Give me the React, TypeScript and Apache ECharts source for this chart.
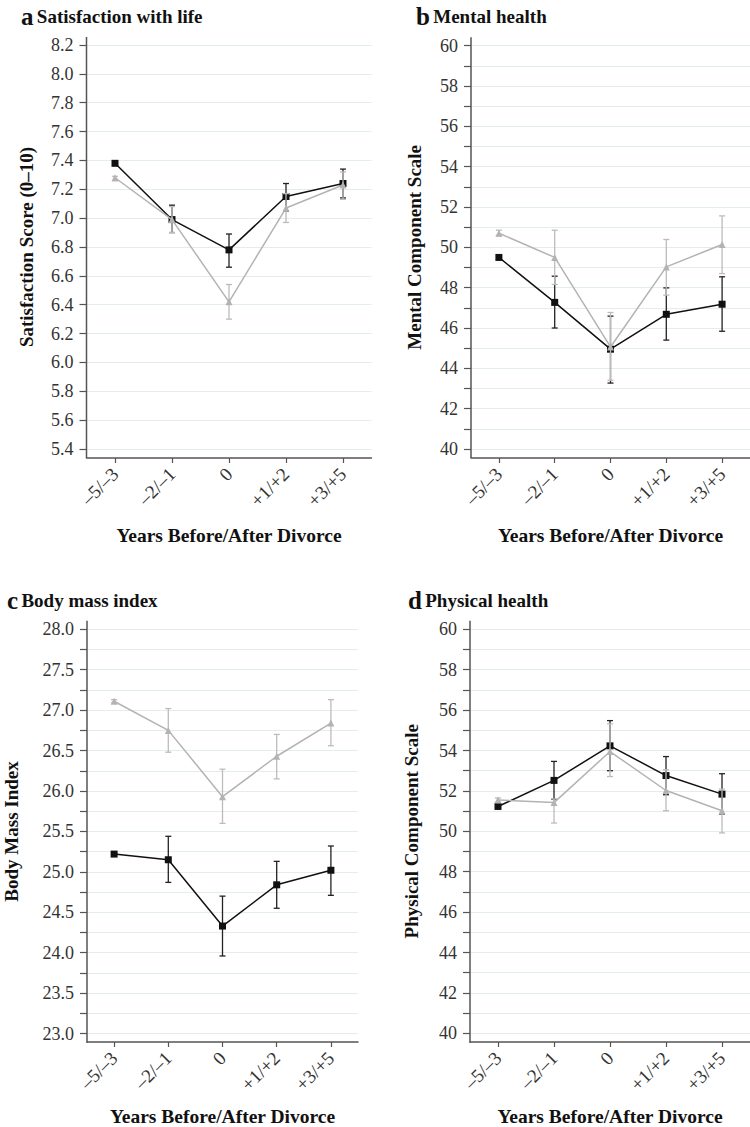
import React, { useEffect, useRef } from "react";
import * as echarts from "echarts";

// ---------- data ----------
const categories = ["–5/–3", "–2/–1", "0", "+1/+2", "+3/+5"];

// a: Satisfaction with life
const lifeBlack = [7.38, 6.99, 6.78, 7.15, 7.24];
const lifeBlackLow = [7.37, 6.90, 6.66, 7.05, 7.14];
const lifeBlackHigh = [7.39, 7.09, 6.89, 7.24, 7.34];
const lifeGray = [7.28, 6.99, 6.42, 7.07, 7.23];
const lifeGrayLow = [7.26, 6.90, 6.30, 6.97, 7.13];
const lifeGrayHigh = [7.29, 7.08, 6.54, 7.17, 7.32];

// b: Mental health
const mentalBlack = [49.5, 47.27, 44.95, 46.68, 47.18];
const mentalBlackLow = [49.4, 46.0, 43.27, 45.4, 45.84];
const mentalBlackHigh = [49.6, 48.57, 46.59, 47.99, 48.54];
const mentalGray = [50.7, 49.5, 45.06, 49.03, 50.14];
const mentalGrayLow = [50.57, 48.16, 43.41, 47.63, 48.7];
const mentalGrayHigh = [50.85, 50.85, 46.77, 50.39, 51.56];

// c: Body mass index
const bmiBlack = [25.22, 25.15, 24.33, 24.84, 25.02];
const bmiBlackLow = [25.2, 24.87, 23.96, 24.55, 24.71];
const bmiBlackHigh = [25.24, 25.44, 24.7, 25.13, 25.32];
const bmiGray = [27.11, 26.75, 25.93, 26.43, 26.84];
const bmiGrayLow = [27.09, 26.48, 25.6, 26.15, 26.56];
const bmiGrayHigh = [27.13, 27.02, 26.27, 26.7, 27.13];

// d: Physical health
const physBlack = [51.23, 52.52, 54.23, 52.76, 51.84];
const physBlackLow = [51.15, 51.58, 53.0, 51.81, 50.86];
const physBlackHigh = [51.31, 53.46, 55.48, 53.7, 52.85];
const physGray = [51.55, 51.42, 53.95, 52.02, 51.02];
const physGrayLow = [51.45, 50.41, 52.71, 51.02, 49.92];
const physGrayHigh = [51.65, 51.6, 55.32, 53.05, 52.09];

// ---------- styles ----------
const FONT = "'Liberation Serif', 'Times New Roman', serif";
const AXIS_COLOR = "#555";
const GRID_COLOR = "#e3ecee";
const LABEL_COLOR = "#333";
const BLACK = "#111";
const GRAY = "#b3b3b3";
const GRAY_ERR = "#bcbcbc";

type Panel = {
  letter: string;
  title: string;
  yName: string;
  yMin: number;
  yMax: number;
  interval: number;
  labelEvery: number;
  decimals: number;
  black: number[];
  blackLow: number[];
  blackHigh: number[];
  gray: number[];
  grayLow: number[];
  grayHigh: number[];
  left: number;
  top: number;
  width: number;
  height: number;
  axisTop: number;
  xOffset: number;
  yNameGap: number;
  xNameGap: number;
  titleX: number;
  titleY: number;
};

const panels: Panel[] = [
  {
    letter: "a", title: "Satisfaction with life", yName: "Satisfaction Score (0–10)",
    yMin: 5.4, yMax: 8.2, interval: 0.2, labelEvery: 1, decimals: 1,
    black: lifeBlack, blackLow: lifeBlackLow, blackHigh: lifeBlackHigh,
    gray: lifeGray, grayLow: lifeGrayLow, grayHigh: lifeGrayHigh,
    left: 86.5, top: 45, width: 285, height: 404, axisTop: 37, xOffset: 9,
    yNameGap: 51, xNameGap: 67, titleX: 21, titleY: 4,
  },
  {
    letter: "b", title: "Mental health", yName: "Mental Component Scale",
    yMin: 40, yMax: 60, interval: 1, labelEvery: 2, decimals: 0,
    black: mentalBlack, blackLow: mentalBlackLow, blackHigh: mentalBlackHigh,
    gray: mentalGray, grayLow: mentalGrayLow, grayHigh: mentalGrayHigh,
    left: 471, top: 45.7, width: 287.5, height: 403.3, axisTop: 37.3, xOffset: 9,
    yNameGap: 47, xNameGap: 67, titleX: 416, titleY: 4,
  },
  {
    letter: "c", title: "Body mass index", yName: "Body Mass Index",
    yMin: 23, yMax: 28, interval: 0.25, labelEvery: 2, decimals: 1,
    black: bmiBlack, blackLow: bmiBlackLow, blackHigh: bmiBlackHigh,
    gray: bmiGray, grayLow: bmiGrayLow, grayHigh: bmiGrayHigh,
    left: 87, top: 629.3, width: 271, height: 405, axisTop: 620.7, xOffset: 8.4,
    yNameGap: 66, xNameGap: 64, titleX: 7, titleY: 588,
  },
  {
    letter: "d", title: "Physical health", yName: "Physical Component Scale",
    yMin: 40, yMax: 60, interval: 1, labelEvery: 2, decimals: 0,
    black: physBlack, blackLow: physBlackLow, blackHigh: physBlackHigh,
    gray: physGray, grayLow: physGrayLow, grayHigh: physGrayHigh,
    left: 470, top: 629.3, width: 287.5, height: 404.7, axisTop: 620.7, xOffset: 8.7,
    yNameGap: 49, xNameGap: 64, titleX: 408, titleY: 588,
  },
];

function errorSeries(idx: number, low: number[], high: number[], color: string, z: number) {
  return {
    type: "custom",
    xAxisIndex: idx,
    yAxisIndex: idx,
    z,
    silent: true,
    encode: { x: 0, y: [1, 2] },
    data: categories.map((_, i) => [i, low[i], high[i]]),
    renderItem: (_params: any, api: any) => {
      const x = api.value(0);
      const pLo = api.coord([x, api.value(1)]);
      const pHi = api.coord([x, api.value(2)]);
      const w = 3;
      const style = { stroke: color, lineWidth: 1.3 };
      return {
        type: "group",
        children: [
          { type: "line", shape: { x1: pLo[0], y1: pLo[1], x2: pHi[0], y2: pHi[1] }, style },
          { type: "line", shape: { x1: pLo[0] - w, y1: pLo[1], x2: pLo[0] + w, y2: pLo[1] }, style },
          { type: "line", shape: { x1: pHi[0] - w, y1: pHi[1], x2: pHi[0] + w, y2: pHi[1] }, style },
        ],
      };
    },
  };
}

function buildOption() {
  const grid: any[] = [];
  const xAxis: any[] = [];
  const yAxis: any[] = [];
  const series: any[] = [];
  const graphic: any[] = [];

  panels.forEach((p, idx) => {
    grid.push({ left: p.left, top: p.top, width: p.width, height: p.height, containLabel: false });
    xAxis.push({
      type: "category",
      gridIndex: idx,
      data: categories,
      boundaryGap: true,
      offset: p.xOffset,
      axisLine: { show: true, lineStyle: { color: AXIS_COLOR, width: 1.5 } },
      axisTick: { show: true, alignWithLabel: true, length: 5, lineStyle: { color: AXIS_COLOR, width: 1.2 } },
      axisLabel: {
        rotate: 45,
        margin: 13,
        color: LABEL_COLOR,
        fontFamily: FONT,
        fontSize: 19,
        interval: 0,
      },
      splitLine: { show: false },
      name: "Years Before/After Divorce",
      nameLocation: "middle",
      nameGap: p.xNameGap,
      nameTextStyle: { fontFamily: FONT, fontSize: 19.5, fontWeight: "bold", color: "#111" },
    });
    const step = p.interval * p.labelEvery;
    yAxis.push({
      type: "value",
      gridIndex: idx,
      min: p.yMin,
      max: p.yMax,
      interval: p.interval,
      axisLine: { show: false },
      axisTick: { show: true, length: 7, lineStyle: { color: AXIS_COLOR, width: 1.2 } },
      axisLabel: {
        margin: 13,
        color: LABEL_COLOR,
        fontFamily: FONT,
        fontSize: 18,
        formatter: (v: number) => {
          const r = v / step;
          return Math.abs(r - Math.round(r)) < 1e-6 ? v.toFixed(p.decimals) : "";
        },
      },
      splitLine: { show: true, lineStyle: { color: GRID_COLOR, width: 1.2 } },
      name: p.yName,
      nameLocation: "middle",
      nameRotate: 90,
      nameGap: p.yNameGap,
      nameTextStyle: { fontFamily: FONT, fontSize: 19, fontWeight: "bold", color: "#111" },
    });

    series.push(errorSeries(idx, p.blackLow, p.blackHigh, "#222", 3));
    series.push({
      type: "line",
      xAxisIndex: idx,
      yAxisIndex: idx,
      data: p.black,
      z: 4,
      symbol: "rect",
      symbolSize: 7,
      lineStyle: { color: BLACK, width: 1.5 },
      itemStyle: { color: BLACK },
    });
    series.push(errorSeries(idx, p.grayLow, p.grayHigh, GRAY_ERR, 5));
    series.push({
      type: "line",
      xAxisIndex: idx,
      yAxisIndex: idx,
      data: p.gray,
      z: 6,
      symbol: "triangle",
      symbolSize: 7,
      lineStyle: { color: GRAY, width: 1.5 },
      itemStyle: { color: GRAY },
    });

    graphic.push({
      type: "line",
      z: 10,
      shape: { x1: p.left, y1: p.axisTop, x2: p.left, y2: p.top + p.height + p.xOffset },
      style: { stroke: AXIS_COLOR, lineWidth: 1.5 },
    });
    graphic.push({
      type: "text",
      left: p.titleX,
      top: p.titleY,
      style: {
        text: `{l|${p.letter}} {t|${p.title}}`,
        fill: "#111",
        rich: {
          l: { fontFamily: FONT, fontSize: 25, fontWeight: "bold", fill: "#111" },
          t: { fontFamily: FONT, fontSize: 19, fontWeight: "bold", fill: "#111" },
        },
      },
    });
  });

  return {
    animation: false,
    backgroundColor: "#ffffff",
    grid,
    xAxis,
    yAxis,
    series,
    graphic,
  };
}

export default function App() {
  const ref = useRef<HTMLDivElement | null>(null);
  useEffect(() => {
    if (!ref.current) return;
    const chart = echarts.init(ref.current, undefined, { renderer: "svg" });
    chart.setOption(buildOption() as any);
    return () => chart.dispose();
  }, []);
  return (
    <div
      ref={ref}
      style={{ position: "absolute", left: 0, top: 0, width: 750, height: 1127, background: "#fff" }}
    />
  );
}
